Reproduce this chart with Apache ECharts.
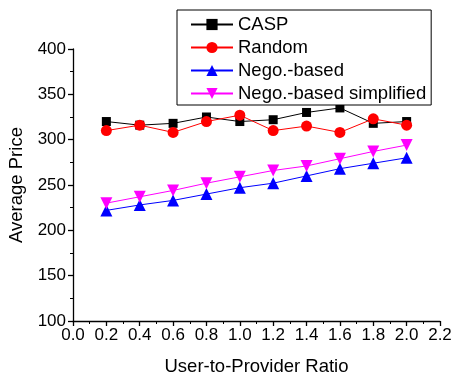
<!DOCTYPE html>
<html lang="en">
<head>
    <meta charset="UTF-8">
    <script src="https://cdn.jsdelivr.net/npm/echarts@6/dist/echarts.min.js"></script>
    <title>Average Price vs User-to-Provider Ratio</title>
    <style>
        body { margin: 0; background: #fff; }
    </style>
</head>
<body>
    <div id="main" style="width: 453px;height:377px;"></div>
    <script type="text/javascript">
        // values
        const ratios = [0.2, 0.4, 0.6, 0.8, 1.0, 1.2, 1.4, 1.6, 1.8, 2.0];
        const casp = [320, 316, 318, 325, 320, 322, 330, 335, 318, 320];
        const random = [310, 316, 308, 320, 327, 310, 315, 308, 323, 316];
        const negoBased = [222, 228, 233, 240, 247, 252, 260, 268, 274, 280];
        const negoSimplified = [230, 237, 244, 252, 259, 266, 271, 279, 287, 294];

        const font = 'Liberation Sans';
        let myChart = echarts.init(document.getElementById('main'));

        // pair x values with y values for a value-type x axis
        const pts = (ys) => ys.map((y, i) => [ratios[i], y]);

        function lineSeries(name, data, color, symbol, size) {
            return {
                name: name,
                type: 'line',
                data: pts(data),
                symbol: symbol,
                symbolSize: size,
                showAllSymbol: true,
                lineStyle: { color: color, width: 1 },
                itemStyle: { color: color },
                emphasis: { disabled: true },
                animation: false
            };
        }

        const axisCommon = {
            axisLine: { lineStyle: { color: '#000', width: 1.3 } },
            axisTick: { length: 5, lineStyle: { color: '#000', width: 1.3 } },
            minorTick: { show: true, splitNumber: 2, length: 3, lineStyle: { color: '#000', width: 1 } },
            splitLine: { show: false },
            axisLabel: { color: '#000', fontFamily: font, fontSize: 17 },
            nameTextStyle: { color: '#000', fontFamily: font, fontSize: 18.5 }
        };

        let options = {
            backgroundColor: '#fff',
            grid: { left: 73, right: 13, top: 49, bottom: 56, outerBoundsMode: 'none', containLabel: false },
            legend: {
                orient: 'vertical',
                left: 177,
                top: 10,
                padding: [5, 5, 2, 13],
                itemWidth: 42,
                itemHeight: 14,
                itemGap: 4,
                backgroundColor: '#fff',
                borderColor: '#000',
                borderWidth: 1,
                borderRadius: 0,
                textStyle: { color: '#000', fontFamily: font, fontSize: 18.5 },
                data: ['CASP', 'Random', 'Nego.-based', 'Nego.-based simplified']
            },
            xAxis: Object.assign({}, axisCommon, {
                type: 'value',
                min: 0,
                max: 2.2,
                interval: 0.2,
                name: 'User-to-Provider Ratio',
                nameLocation: 'middle',
                nameGap: 36,
                axisLabel: Object.assign({}, axisCommon.axisLabel, {
                    margin: 6,
                    formatter: (v) => v.toFixed(1)
                })
            }),
            yAxis: Object.assign({}, axisCommon, {
                type: 'value',
                min: 100,
                max: 400,
                interval: 50,
                name: 'Average Price',
                nameLocation: 'middle',
                nameGap: 41,
                axisLabel: Object.assign({}, axisCommon.axisLabel, { margin: 7 })
            }),
            series: [
                lineSeries('CASP', casp, '#000000', 'rect', 9),
                lineSeries('Random', random, '#ff0000', 'circle', 11),
                lineSeries('Nego.-based', negoBased, '#0000ff', 'triangle', 12),
                lineSeries('Nego.-based simplified', negoSimplified, '#ff00ff', 'path://M0,0 L10,0 L5,9 Z', 12)
            ]
        };
        myChart.setOption(options);
    </script>
</body>
</html>
